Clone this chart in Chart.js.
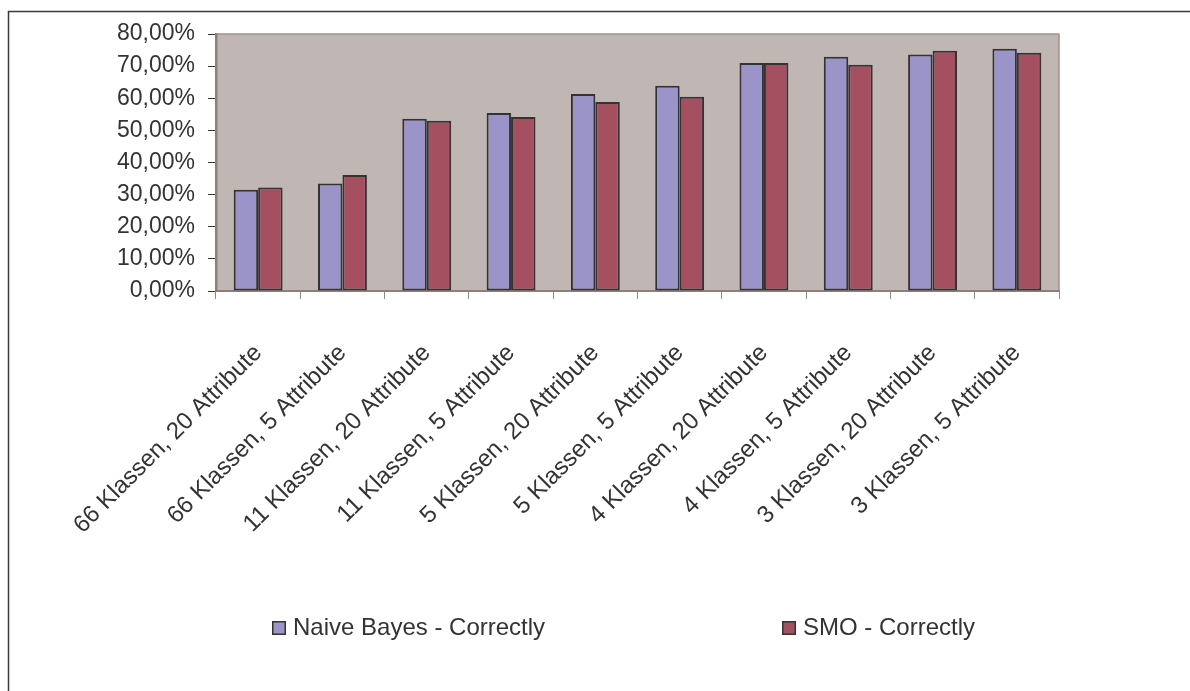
<!DOCTYPE html>
<html>
<head>
<meta charset="utf-8">
<script src="https://cdn.jsdelivr.net/npm/chart.js@4.4.1/dist/chart.umd.min.js"></script>
<style>
  html, body { margin: 0; padding: 0; background: #ffffff; }
  #wrap { width: 1190px; height: 691px; position: relative; }
</style>
</head>
<body>
<div id="wrap"><canvas id="chart"></canvas></div>
<script>
// Categories (class count / attribute count)
const categories = [
  '66 Klassen, 20 Attribute',
  '66 Klassen, 5 Attribute',
  '11 Klassen, 20 Attribute',
  '11 Klassen, 5 Attribute',
  '5 Klassen, 20 Attribute',
  '5 Klassen, 5 Attribute',
  '4 Klassen, 20 Attribute',
  '4 Klassen, 5 Attribute',
  '3 Klassen, 20 Attribute',
  '3 Klassen, 5 Attribute'
];

// Share of correctly classified instances, in percent
const naiveBayes = [31.5, 33.5, 53.6, 55.4, 61.3, 63.9, 71.0, 72.9, 73.6, 75.4];
const smo        = [32.2, 36.1, 53.0, 54.2, 58.8, 60.5, 71.0, 70.4, 74.8, 74.2];

const seriesNames = ['Naive Bayes - Correctly', 'SMO - Correctly'];

// Value axis range and step
const yMin = 0;
const yMax = 80;
const yStep = 10;

const FONT = '"Liberation Sans", Arial, sans-serif';
const TEXT = '#333333';

// Grey plot background with its top/right border
const plotBackground = {
  id: 'plotBackground',
  beforeDraw(chart) {
    const { ctx, chartArea: a } = chart;
    ctx.save();
    ctx.fillStyle = '#c0b7b5';
    ctx.fillRect(a.left, a.top, a.right - a.left, a.bottom - a.top);
    ctx.strokeStyle = '#9d928f';
    ctx.lineWidth = 1.5;
    ctx.beginPath();
    ctx.moveTo(a.left, a.top);
    ctx.lineTo(a.right, a.top);
    ctx.lineTo(a.right, a.bottom);
    ctx.stroke();
    ctx.restore();
  }
};

// Thin frame along the top and left edges of the canvas
const outerFrame = {
  id: 'outerFrame',
  afterDraw(chart) {
    const { ctx, width, height } = chart;
    ctx.save();
    ctx.strokeStyle = '#3a3a3a';
    ctx.lineWidth = 1.5;
    ctx.beginPath();
    ctx.moveTo(8.5, height);
    ctx.lineTo(8.5, 11.5);
    ctx.lineTo(width, 11.5);
    ctx.stroke();
    ctx.restore();
  }
};

// Series key below the axis labels, one entry per dataset
const seriesKey = {
  id: 'seriesKey',
  afterDraw(chart, args, opts) {
    const { ctx } = chart;
    ctx.save();
    ctx.font = `${opts.fontSize}px ${FONT}`;
    ctx.textBaseline = 'middle';
    ctx.textAlign = 'left';
    chart.data.datasets.forEach((ds, i) => {
      const x = opts.starts[i];
      const y = opts.centerY;
      const s = opts.boxSize;
      ctx.fillStyle = ds.backgroundColor;
      ctx.fillRect(x, y - s / 2, s, s);
      ctx.strokeStyle = ds.borderColor;
      ctx.lineWidth = 1.5;
      ctx.strokeRect(x + 0.75, y - s / 2 + 0.75, s - 1.5, s - 1.5);
      ctx.fillStyle = TEXT;
      ctx.fillText(ds.label, x + s + 7, y);
    });
    ctx.restore();
  }
};

new Chart(document.getElementById('chart'), {
  type: 'bar',
  data: {
    labels: categories,
    datasets: [
      {
        label: seriesNames[0],
        data: naiveBayes,
        backgroundColor: '#9a94c8',
        borderColor: '#333333',
        borderWidth: 2,
        borderSkipped: false,
        categoryPercentage: 0.58,
        barPercentage: 1.0
      },
      {
        label: seriesNames[1],
        data: smo,
        backgroundColor: '#a55060',
        borderColor: '#333333',
        borderWidth: 2,
        borderSkipped: false,
        categoryPercentage: 0.58,
        barPercentage: 1.0
      }
    ]
  },
  options: {
    responsive: true,
    maintainAspectRatio: false,
    animation: false,
    layout: { padding: { top: 34, right: 131, bottom: 140, left: 0 } },
    plugins: {
      tooltip: { enabled: false },
      legend: { display: false },
      seriesKey: { starts: [272, 782], centerY: 628, boxSize: 14, fontSize: 24 }
    },
    scales: {
      x: {
        grid: {
          display: true,
          drawOnChartArea: false,
          drawTicks: true,
          tickLength: 8,
          color: '#8a8a8a',
          offset: true
        },
        border: { display: true, color: '#8a817e', width: 2 },
        ticks: {
          autoSkip: false,
          minRotation: 45,
          maxRotation: 45,
          padding: 40,
          color: TEXT,
          font: { family: FONT, size: 24 }
        },
        afterFit(scale) { scale.height = 260; }
      },
      y: {
        min: yMin,
        max: yMax,
        grid: {
          display: true,
          drawOnChartArea: false,
          drawTicks: true,
          tickLength: 8,
          color: '#333333'
        },
        border: { display: true, color: '#8a817e', width: 2.5 },
        ticks: {
          stepSize: yStep,
          autoSkip: false,
          padding: 13,
          color: TEXT,
          font: { family: FONT, size: 23 },
          callback: (v) => v.toFixed(2).replace('.', ',') + '%'
        },
        afterFit(scale) { scale.width = 216; }
      }
    }
  },
  plugins: [plotBackground, outerFrame, seriesKey]
});
</script>
</body>
</html>
